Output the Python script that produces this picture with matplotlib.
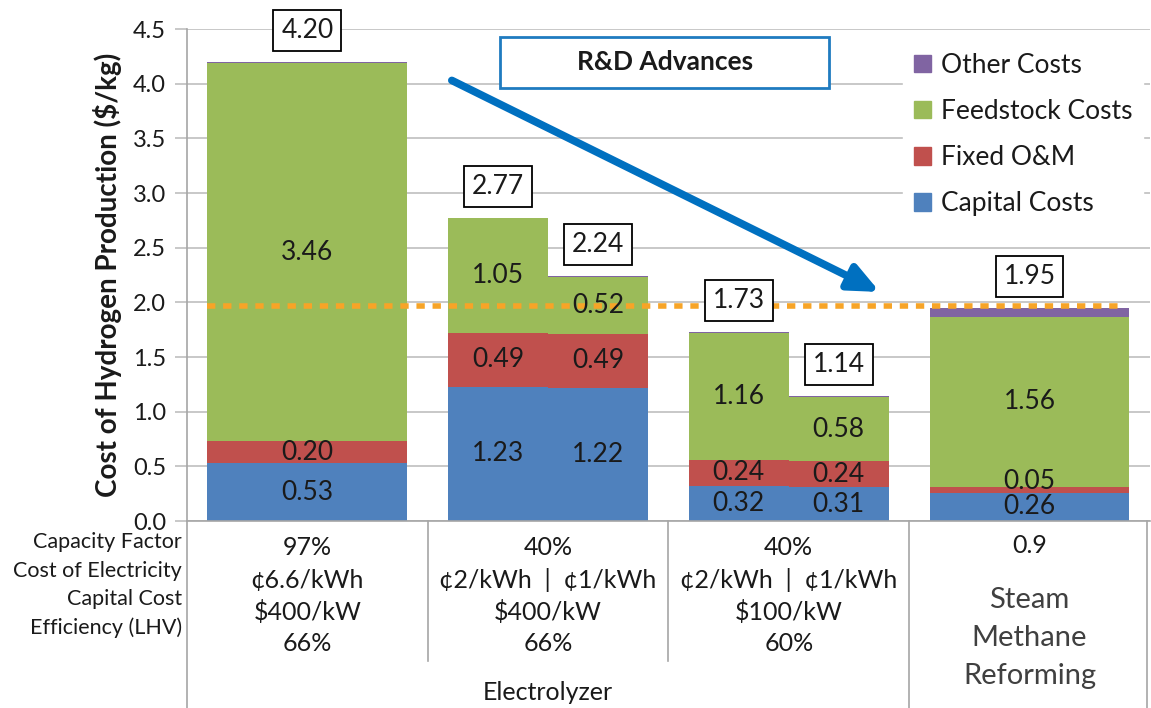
import numpy as np
import matplotlib
matplotlib.use("Agg")
import matplotlib.pyplot as plt
from matplotlib.patches import Patch, Rectangle

plt.rcParams['font.family'] = ['Lato', 'DejaVu Sans']

# cost breakdown of each bar ($/kg)
bar_names = ["Current", "2c 400", "1c 400", "2c 100", "1c 100", "SMR"]
capital = [0.53, 1.23, 1.22, 0.32, 0.31, 0.26]
fixed_om = [0.20, 0.49, 0.49, 0.24, 0.24, 0.05]
feedstock = [3.46, 1.05, 0.52, 1.16, 0.58, 1.56]
other = [0.01, 0.00, 0.01, 0.01, 0.01, 0.08]
totals = [4.20, 2.77, 2.24, 1.73, 1.14, 1.95]
target = 1.97

# which column each bar sits in, and which half (0 = full width, -1 left, +1 right)
bar_group = [0, 1, 1, 2, 2, 3]
bar_half = [0, -1, 1, -1, 1, 0]

row_labels = ["Capacity Factor", "Cost of Electricity", "Capital Cost", "Efficiency (LHV)"]
col_values = [
    ["97%", "\u00a26.6/kWh", "$400/kW", "66%"],
    ["40%", "\u00a22/kWh  |  \u00a21/kWh", "$400/kW", "66%"],
    ["40%", "\u00a22/kWh  |  \u00a21/kWh", "$100/kW", "60%"],
]
smr_cf = "0.9"
smr_name = "Steam\nMethane\nReforming"
group_name = "Electrolyzer"

c_cap = "#4F81BD"
c_om = "#C0504D"
c_feed = "#9BBB59"
c_oth = "#8064A2"
grey = "#BFBFBF"
ink = "#1a1a1a"

fig = plt.figure(figsize=(11.51, 7.08), dpi=100)
ax = fig.add_axes([0.1625, 0.2641, 0.8365, 0.6949])

full_w = 0.83
x = []
w = []
for g, h in zip(bar_group, bar_half):
    if h == 0:
        x.append(g)
        w.append(full_w)
    else:
        x.append(g + h * full_w / 4)
        w.append(full_w / 2)

capital = np.array(capital)
fixed_om = np.array(fixed_om)
feedstock = np.array(feedstock)
other = np.array(other)

ax.bar(x, capital, w, color=c_cap, zorder=2)
ax.bar(x, fixed_om, w, bottom=capital, color=c_om, zorder=2)
ax.bar(x, feedstock, w, bottom=capital + fixed_om, color=c_feed, zorder=2)
ax.bar(x, other, w, bottom=capital + fixed_om + feedstock, color=c_oth, zorder=2)

lab_fs = 19
for i in range(len(x)):
    b = 0
    for v in (capital[i], fixed_om[i], feedstock[i]):
        yy = b + v / 2
        if v < 0.1:
            yy += 0.08   # tiny slice: nudge label up so it doesn't sit on the next one
        ax.text(x[i], yy, f"{v:.2f}", ha="center", va="center",
                fontsize=lab_fs, color=ink, zorder=4)
        b += v
    ax.text(x[i], totals[i] + 0.29, f"{totals[i]:.2f}", ha="center", va="center",
            fontsize=lab_fs, color=ink, zorder=5,
            bbox=dict(boxstyle="square,pad=0.3", fc="white", ec="black", lw=1.3))

# $2/kg target line
ax.plot([-0.415, 3.38], [target, target], color="#F7A427", lw=4,
        linestyle=(0, (1.5, 1.4)), zorder=3)

# R&D arrow and box
ax.annotate("", xy=(2.378, 2.095), xytext=(0.60, 4.03),
            arrowprops=dict(arrowstyle="-|>,head_length=0.9,head_width=0.4",
                            lw=5.5, color="#0070C0", mutation_scale=20,
                            shrinkA=0, shrinkB=0), zorder=6)
ax.add_patch(Rectangle((0.80, 3.96), 1.367, 0.47, fc="white", ec="#1F7BC0",
                       lw=2, zorder=6))
ax.text(1.485, 4.195, "R&D Advances", ha="center", va="center", fontsize=19,
        fontweight="bold", color=ink, zorder=7)

ax.set_xlim(-0.5, 3.5)
ax.set_ylim(0, 4.5)
ticks = np.arange(0, 4.51, 0.5)
ax.set_yticks(ticks)
ax.set_yticklabels([f"{t:.1f}" for t in ticks], fontsize=17, color=ink)
ax.tick_params(axis="y", length=9, color=grey, width=1.2, pad=6)
ax.set_xticks([])
ax.yaxis.grid(True, color=grey, lw=1.2, zorder=0)
ax.set_axisbelow(True)
for s in ("top", "right"):
    ax.spines[s].set_visible(False)
for s in ("left", "bottom"):
    ax.spines[s].set_color("#A6A6A6")
    ax.spines[s].set_linewidth(1.2)

ax.set_ylabel("Cost of Hydrogen Production ($/kg)", fontsize=20,
              fontweight="bold", color=ink, labelpad=8)

handles = [Patch(color=c_oth, label="Other Costs"),
           Patch(color=c_feed, label="Feedstock Costs"),
           Patch(color=c_om, label="Fixed O&M"),
           Patch(color=c_cap, label="Capital Costs")]
leg = ax.legend(handles=handles, loc="upper right", bbox_to_anchor=(1.007, 1.0),
                fontsize=19, frameon=True, framealpha=1, edgecolor="white",
                handlelength=0.65, handleheight=0.65, handletextpad=0.4,
                labelspacing=0.8, borderpad=0.4, fancybox=False)
for t in leg.get_texts():
    t.set_color(ink)

# table under the chart
line_kw = dict(color="#A6A6A6", lw=1.2, clip_on=False)
ax.plot([-0.5, -0.5], [0, -1.75], **line_kw)
ax.plot([0.5, 0.5], [0, -1.28], **line_kw)
ax.plot([1.5, 1.5], [0, -1.28], **line_kw)
ax.plot([2.5, 2.5], [0, -1.75], **line_kw)
ax.plot([3.49, 3.49], [0, -1.75], **line_kw)

row_y = [-0.192, -0.457, -0.714, -0.979]
for lab, yy in zip(row_labels, row_y):
    ax.text(-0.52, yy, lab, ha="right", va="center", fontsize=15.5,
            color=ink, clip_on=False)

val_y = [-0.238, -0.540, -0.833, -1.116]
for g, vals in enumerate(col_values):
    for v, yy in zip(vals, val_y):
        ax.text(g, yy, v, ha="center", va="center", fontsize=18,
                color=ink, clip_on=False)

ax.text(1.0, -1.57, group_name, ha="center", va="center", fontsize=18,
        color=ink, clip_on=False)
ax.text(3.0, -0.22, smr_cf, ha="center", va="center", fontsize=18,
        color=ink, clip_on=False)
ax.text(3.0, -1.07, smr_name, ha="center", va="center", fontsize=21,
        color="#404040", linespacing=1.55, clip_on=False)

fig.savefig("out.png", dpi=100)
